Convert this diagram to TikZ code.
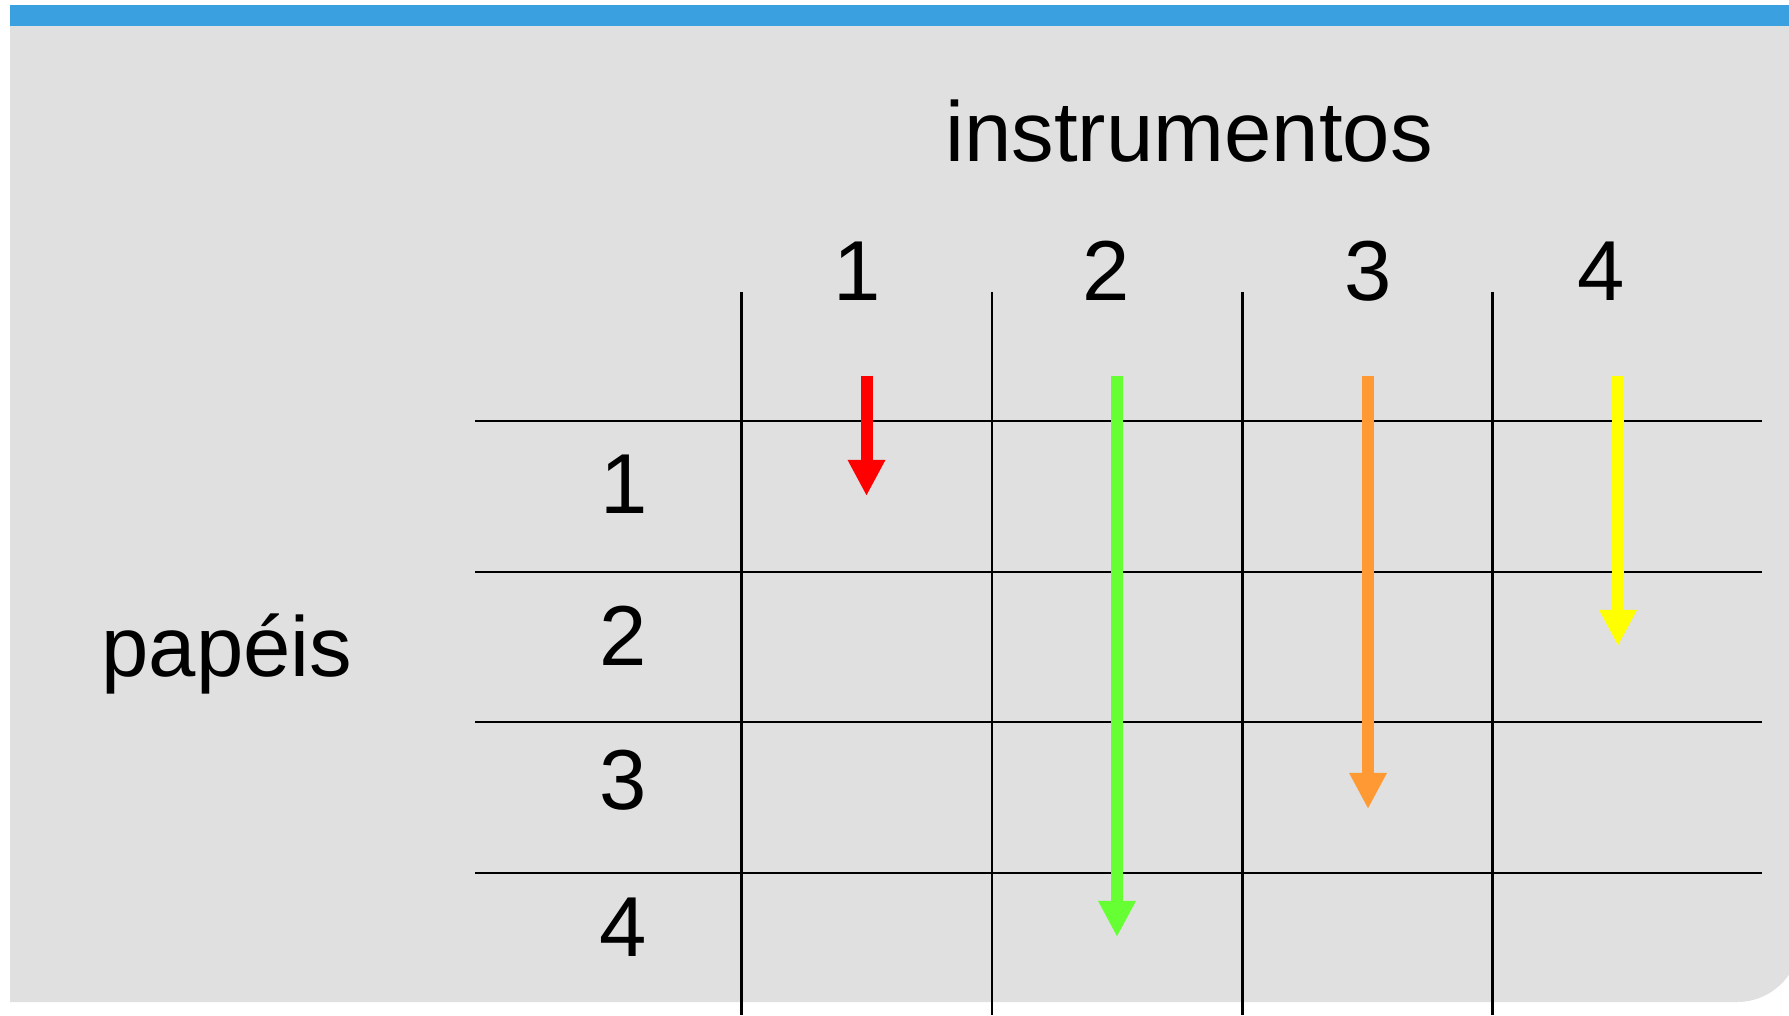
\documentclass[tikz,border=0pt]{standalone}
\usepackage{fontspec}
\setmainfont{Liberation Sans}
\usetikzlibrary{arrows.meta}
\definecolor{bandblue}{HTML}{3BA0E0}
\definecolor{panelgray}{HTML}{E0E0E0}
\definecolor{arrred}{HTML}{FF0000}
\definecolor{arrgreen}{HTML}{66FF33}
\definecolor{arrorange}{HTML}{FF9933}
\definecolor{arryellow}{HTML}{FFFF00}
\begin{document}
\begin{tikzpicture}[x=0.01cm,y=-0.01cm,
  lbl/.style={font=\fontsize{24.2}{29}\selectfont, inner sep=0pt, anchor=base},
  gridline/.style={line width=0.6pt, black},
  fatarrow/.style={line width=0.12cm, -{Triangle[width=0.35cm,length=0.36cm]}}]
\useasboundingbox (0,0) rectangle (1789,1015);
\clip (0,0) rectangle (1789,1015);
% panel
\fill[panelgray] (10,26) -- (1800,26) -- (1800,939) arc[start angle=0,end angle=90,radius=63] -- (10,1002) -- cycle;
\fill[bandblue] (10,5) rectangle (1800,26);
% grid
\foreach \x/\n in {741.5/1,992/2,1242.5/3,1492.5/4}{
  \coordinate (vt\n) at (\x,292);
  \coordinate (vb\n) at (\x,1015);
  \draw[gridline] (vt\n) -- (vb\n);
}
\foreach \y/\n in {421/1,572/2,722/3,873/4}{
  \coordinate (hl\n) at (475,\y);
  \coordinate (hr\n) at (1762,\y);
  \draw[gridline] (hl\n) -- (hr\n);
}
% labels
\node[lbl] (instr) at (1189,161) {instrumentos};
\node[lbl] (pap) at (227,676) {papéis};
\node[lbl] (c1) at (857,300) {1};
\node[lbl] (c2) at (1106,300) {2};
\node[lbl] (c3) at (1368,300) {3};
\node[lbl] (c4) at (1601,300) {4};
\node[lbl] (r1) at (624,513) {1};
\node[lbl] (r2) at (623,665) {2};
\node[lbl] (r3) at (623,809) {3};
\node[lbl] (r4) at (623,956) {4};
% arrows
\coordinate (a1s) at (866.5,375.5); \coordinate (a1e) at (866.5,496);
\coordinate (a2s) at (1117,375.5);  \coordinate (a2e) at (1117,937);
\coordinate (a3s) at (1368,375.5);  \coordinate (a3e) at (1368,809);
\coordinate (a4s) at (1618,375.5);  \coordinate (a4e) at (1618,646);
\draw[fatarrow, arrred] (a1s) -- (a1e);
\draw[fatarrow, arrgreen] (a2s) -- (a2e);
\draw[fatarrow, arrorange] (a3s) -- (a3e);
\draw[fatarrow, arryellow] (a4s) -- (a4e);
\end{tikzpicture}
\end{document}
